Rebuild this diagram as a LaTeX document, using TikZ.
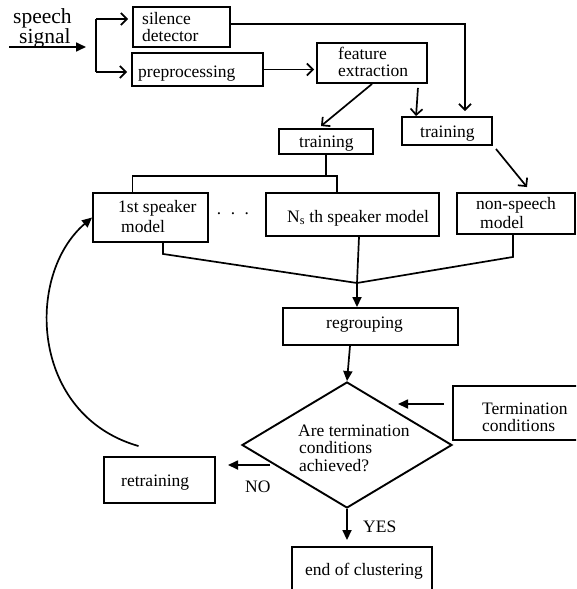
\documentclass[tikz,border=0pt]{standalone}
\usepackage{fontspec}
\setmainfont{Liberation Serif}
\usetikzlibrary{arrows.meta,shapes.geometric,calc}

\tikzset{
    box/.style={draw, line width=1.9pt, inner sep=0pt},
    lbl/.style={anchor=base west, inner sep=0pt, align=left},
    conn/.style={line width=1.7pt},
    openarr/.style={conn, -{Straight Barb[length=6pt,width=12pt,line width=1.7pt]}},
    fillarr/.style={conn, -{Triangle[length=10pt,width=9pt]}}
}

\begin{document}
\begin{tikzpicture}[x=1pt,y=1pt,yscale=-1,xscale=1,font=\fontsize{17.5}{16.5}\selectfont]
    \useasboundingbox (0,0) rectangle (576,589);
    \clip (0,0) rectangle (576,589);

    % boxes
    \node[box, minimum width=97pt, minimum height=40pt] (sil) at (181.5,27) {};
    \node[box, minimum width=131pt, minimum height=33pt] (pre) at (197.5,69.5) {};
    \node[box, minimum width=110pt, minimum height=40pt] (feat) at (372,63) {};
    \node[box, minimum width=94pt, minimum height=25pt] (trL) at (326,141.5) {};
    \node[box, minimum width=90pt, minimum height=28pt] (trR) at (447,131) {};
    \node[box, minimum width=115pt, minimum height=49pt] (spk1) at (150.5,217.5) {};
    \node[box, minimum width=173pt, minimum height=43pt] (spkN) at (352.5,214.5) {};
    \node[box, minimum width=118pt, minimum height=41pt] (nons) at (516,213.5) {};
    \node[box, minimum width=175pt, minimum height=37pt] (regr) at (370.5,326.5) {};
    \node[box, diamond, minimum width=210pt, minimum height=126pt] (dia) at (347,445) {};
    \node[box, minimum width=127pt, minimum height=54pt] (term) at (516.5,413) {};
    \node[box, minimum width=111pt, minimum height=46pt] (retr) at (159.5,480) {};
    \node[box, minimum width=140pt, minimum height=54pt] (endc) at (362,574) {};

    % texts (base = last line)
    \node[lbl, font=\fontsize{21.5}{20}\selectfont] (tIn) at (13,43) {speech\\\hspace*{6pt}signal};
    \node[lbl] (tSil) at (142,41) {silence\\detector};
    \node[lbl] (tPre) at (138,77) {preprocessing};
    \node[lbl] (tFeat) at (338,76) {feature\\extraction};
    \node[lbl] (tTrL) at (299,147) {training};
    \node[lbl] (tTrR) at (420,137) {training};
    \node[lbl] (tSpk1) at (118,232) {1st speaker\\[3.5pt]\hspace*{3pt}model};
    \node[anchor=west, inner sep=0pt] (tDots) at (216,216) {·\hspace{8pt}·\hspace{8pt}·};
    \node[lbl] (tSpkN) at (287,222) {N\textsubscript{s} th speaker model};
    \node[lbl] (tNons) at (476,228) {non-speech\\[2.5pt]\hspace*{4pt}model};
    \node[lbl] (tRegr) at (326,328) {regrouping};
    \node[lbl] (tTerm) at (482,431) {Termination\\conditions};
    \node[lbl] (tDia) at (298,471) {Are termination\\\hspace*{1pt}conditions\\[1.5pt]\hspace*{1pt}achieved?};
    \node[lbl] (tYes) at (363,532) {YES};
    \node[lbl] (tNo) at (245,492) {NO};
    \node[lbl] (tRetr) at (121,486) {retraining};
    \node[lbl] (tEnd) at (305,575) {end of clustering};

    % input and branch
    \coordinate (inStart) at (9,47);
    \coordinate (inEnd) at (86,47);
    \coordinate (brTop) at (96,19);
    \coordinate (brBot) at (96,72);
    \draw[fillarr] (inStart) -- (inEnd);
    \draw[conn] (brTop) -- (brBot);
    \draw[openarr, shorten >=4pt] (brTop) -- (brTop -| sil.west);
    \draw[openarr, shorten >=4pt] (brBot) -- (brBot -| pre.west);

    % upper connectors
    \draw[openarr, shorten >=5pt] ($(sil.east)+(0,-3)$) -| ($(trR.north)+(18,0)$);
    \draw[openarr, shorten >=2pt] (pre.east) -- (pre.east -| feat.west);
    \draw[openarr] (feat.south) -- ($(trL.north)+(-5,-2)$);
    \draw[openarr] ($(feat.south east)+(-10,4)$) -- ($(trR.north west)+(15,0)$);
    \draw[openarr] ($(trR.south east)+(3,3)$) -- ($(nons.north)+(11,-5)$);

    % training to speaker models
    \coordinate (busR) at (337,176);
    \draw[conn] ($(spk1.north)+(-18,0)$) |- (busR) -- (busR |- spkN.north);
    \draw[conn] (trL.south) -- (trL.south |- busR);

    % models to regrouping
    \coordinate (merge) at (357,283);
    \draw[conn] ($(spk1.south)+(12.5,0)$) -- ++(0,11) -- (merge);
    \draw[conn] ($(nons.south)+(-3,0)$) -- ++(0,22) -- (merge);
    \draw[conn] ($(spkN.south)+(6.5,0)$) -- (merge);
    \draw[fillarr] (merge) -- (merge |- regr.north);

    % decision
    \draw[fillarr] ($(regr.south)+(-20.5,0)$) -- (dia.north);
    \coordinate (termEnd) at (398,404);
    \draw[fillarr] ($(term.west)+(-8,-9)$) -- (termEnd);
    \draw[fillarr, shorten >=6pt] (dia.south) -- (dia.south |- endc.north);
    \coordinate (noStart) at (270,465);
    \coordinate (noEnd) at (228,465);
    \draw[fillarr] (noStart) -- (noEnd);

    % loop back
    \draw[fillarr] ($(retr.north)+(-21,-10)$) .. controls (30,415) and (25,275) .. (spk1.west);
\end{tikzpicture}
\end{document}
